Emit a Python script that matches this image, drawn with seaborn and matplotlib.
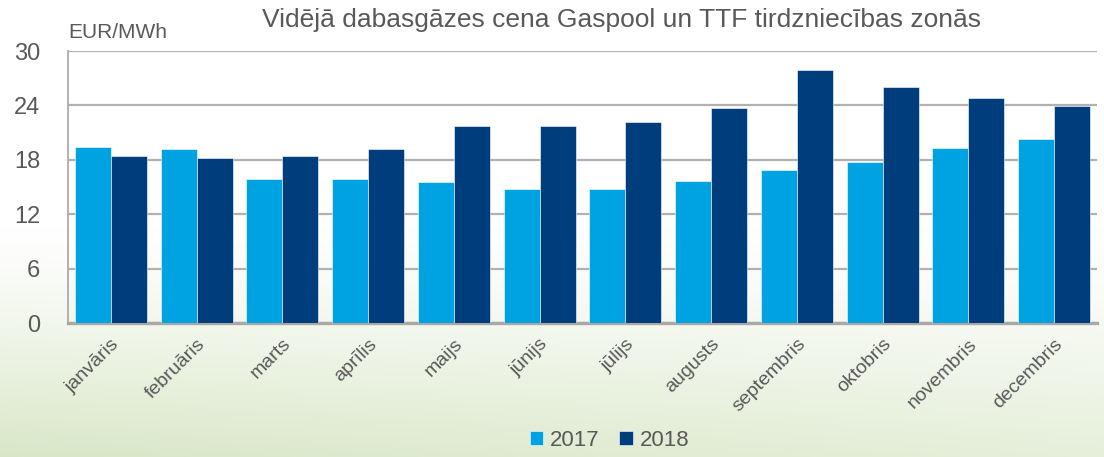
import numpy as np
import pandas as pd
import matplotlib
matplotlib.use('Agg')
import matplotlib.pyplot as plt
import seaborn as sns

months = ['janvāris', 'februāris', 'marts', 'aprīlis', 'maijs', 'jūnijs',
          'jūlijs', 'augusts', 'septembris', 'oktobris', 'novembris', 'decembris']
price_2017 = [19.4, 19.2, 15.9, 15.9, 15.5, 14.8, 14.8, 15.7, 16.9, 17.8, 19.3, 20.3]
price_2018 = [18.4, 18.2, 18.4, 19.2, 21.7, 21.7, 22.2, 23.7, 27.9, 26.0, 24.8, 23.9]
years = ['2017', '2018']
yticks = [0, 6, 12, 18, 24, 30]

df = pd.DataFrame({
    'month': months * 2,
    'year': [years[0]] * 12 + [years[1]] * 12,
    'price': price_2017 + price_2018,
})

sns.set_style('white')
plt.rcParams['font.family'] = ['Liberation Sans', 'DejaVu Sans']
txt = '#595959'

fig = plt.figure(figsize=(11.04, 4.57), dpi=100)

# background: white fading into pale green at the bottom
bg = fig.add_axes([0, 0, 1, 1], zorder=-10)
yy = np.linspace(0, 1, 200)[:, None]
xx = np.linspace(0, 1, 300)[None, :]
fade = np.clip((yy - 0.5) / 0.5, 0, 1) ** 1.2 * (1 - 0.35 * xx)
top = np.array([1.0, 1.0, 1.0])
bottom = np.array([0.85, 0.905, 0.78])
img = top[None, None, :] * (1 - fade[..., None]) + bottom[None, None, :] * fade[..., None]
bg.imshow(img, aspect='auto', extent=[0, 1, 1, 0])
bg.set_axis_off()

ax = fig.add_axes([68 / 1104, 1 - 323 / 457, (1097 - 68) / 1104, (323 - 51) / 457])
ax.set_facecolor('none')
sns.barplot(data=df, x='month', y='price', hue='year', hue_order=years,
            palette=['#00A3E2', '#003D7D'], width=0.84, saturation=1,
            edgecolor='white', linewidth=0.4, ax=ax, zorder=3)

ax.set_ylim(0, 30)
ax.set_xlim(-0.5, 11.5)
ax.set_yticks(yticks)
ax.yaxis.grid(True, color='#b3b0b0', linewidth=1.6, zorder=0)
ax.set_axisbelow(True)
ax.set_xlabel('')
ax.set_ylabel('')
ax.tick_params(axis='y', length=0, pad=20, labelsize=17, labelcolor=txt)
ax.tick_params(axis='x', length=0, pad=9, labelsize=14, labelcolor=txt)
plt.setp(ax.get_xticklabels(), rotation=45, ha='right', rotation_mode='anchor')
for s in ['top', 'right']:
    ax.spines[s].set_visible(False)
ax.spines['left'].set_color('#b3b0b0')
ax.spines['left'].set_linewidth(1.4)
ax.spines['bottom'].set_color('#aaa7a7')
ax.spines['bottom'].set_linewidth(2.4)

ax.get_legend().remove()
handles, labels = ax.get_legend_handles_labels()
fig.legend(handles, labels, loc='lower center', bbox_to_anchor=(0.552, -0.03),
           ncol=2, frameon=False, fontsize=16, labelcolor=txt,
           handlelength=0.6, handleheight=0.6, handletextpad=0.3, columnspacing=0.9)

fig.text(68 / 1104, 1 - 33 / 457, 'EUR/MWh', fontsize=15, color=txt, va='center')
fig.text(622 / 1104, 1 - 20 / 457, 'Vidējā dabasgāzes cena Gaspool un TTF tirdzniecības zonās',
         fontsize=19, color=txt, ha='center', va='center')

fig.savefig('out.png', dpi=100)
